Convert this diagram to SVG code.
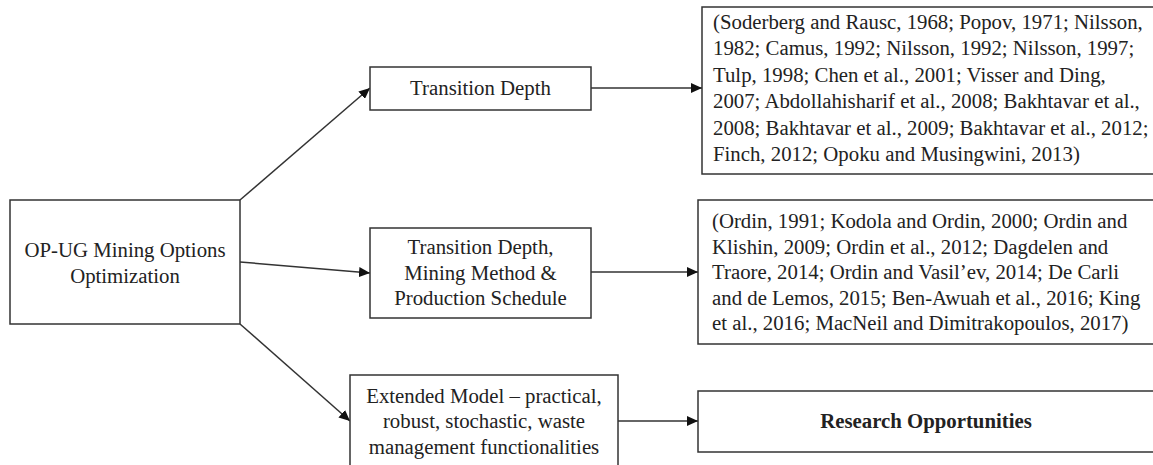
<svg xmlns="http://www.w3.org/2000/svg" width="1153" height="465" viewBox="0 0 1153 465">
<defs>
<style>
.box{fill:#fff;stroke:#333;stroke-width:1.5}
.t{font-size:20.8px;fill:#222}
.c{text-anchor:middle}
.b{font-weight:bold}
.ln{stroke:#333;stroke-width:1.5;fill:none;marker-end:url(#ah)}
</style>
<marker id="ah" markerUnits="userSpaceOnUse" markerWidth="12" markerHeight="10" refX="11" refY="5" orient="auto">
<path d="M0,0 L11,5 L0,10 Z" fill="#111"/>
</marker>
</defs>
<rect width="1153" height="465" fill="#fff"/>
<g id="connectors">
<line class="ln" x1="240" y1="200" x2="370" y2="88"/>
<line class="ln" x1="240" y1="262" x2="370" y2="273"/>
<line class="ln" x1="240" y1="324" x2="350" y2="421"/>
<line class="ln" x1="591" y1="88" x2="702" y2="88"/>
<line class="ln" x1="591" y1="272" x2="698" y2="272"/>
<line class="ln" x1="618" y1="421" x2="698" y2="421"/>
</g>
<g font-family="'Liberation Serif', 'Times New Roman', serif">
<g id="main">
<rect class="box" x="10" y="200" width="230" height="124"/>
<text class="t c" x="125" y="257">OP-UG Mining Options</text>
<text class="t c" x="125" y="283">Optimization</text>
</g>
<g id="transition-depth">
<rect class="box" x="370" y="67" width="221" height="43"/>
<text class="t c" x="480.5" y="95">Transition Depth</text>
</g>
<g id="transition-method-schedule">
<rect class="box" x="370" y="228" width="221" height="90"/>
<text class="t c" x="480.5" y="254">Transition Depth,</text>
<text class="t c" x="480.5" y="280">Mining Method &amp;</text>
<text class="t c" x="480.5" y="305">Production Schedule</text>
</g>
<g id="extended-model">
<rect class="box" x="350" y="375" width="268" height="100"/>
<text class="t c" x="484" y="403">Extended Model – practical,</text>
<text class="t c" x="484" y="428">robust, stochastic, waste</text>
<text class="t c" x="484" y="454">management functionalities</text>
</g>
<g id="refs-transition-depth">
<rect class="box" x="702" y="7" width="470" height="167"/>
<text class="t" x="713" y="29">(Soderberg and Rausc, 1968; Popov, 1971; Nilsson,</text>
<text class="t" x="713" y="55">1982; Camus, 1992; Nilsson, 1992; Nilsson, 1997;</text>
<text class="t" x="713" y="82">Tulp, 1998; Chen et al., 2001; Visser and Ding,</text>
<text class="t" x="713" y="108">2007; Abdollahisharif et al., 2008; Bakhtavar et al.,</text>
<text class="t" x="713" y="135">2008; Bakhtavar et al., 2009; Bakhtavar et al., 2012;</text>
<text class="t" x="713" y="161">Finch, 2012; Opoku and Musingwini, 2013)</text>
</g>
<g id="refs-method-schedule">
<rect class="box" x="698" y="200" width="474" height="144"/>
<text class="t" x="712" y="228">(Ordin, 1991; Kodola and Ordin, 2000; Ordin and</text>
<text class="t" x="712" y="254">Klishin, 2009; Ordin et al., 2012; Dagdelen and</text>
<text class="t" x="712" y="279">Traore, 2014; Ordin and Vasil’ev, 2014; De Carli</text>
<text class="t" x="712" y="305">and de Lemos, 2015; Ben-Awuah et al., 2016; King</text>
<text class="t" x="712" y="330">et al., 2016; MacNeil and Dimitrakopoulos, 2017)</text>
</g>
<g id="research-opportunities">
<rect class="box" x="698" y="391" width="474" height="61"/>
<text class="t c b" x="926" y="428">Research Opportunities</text>
</g>
</g>
</svg>
